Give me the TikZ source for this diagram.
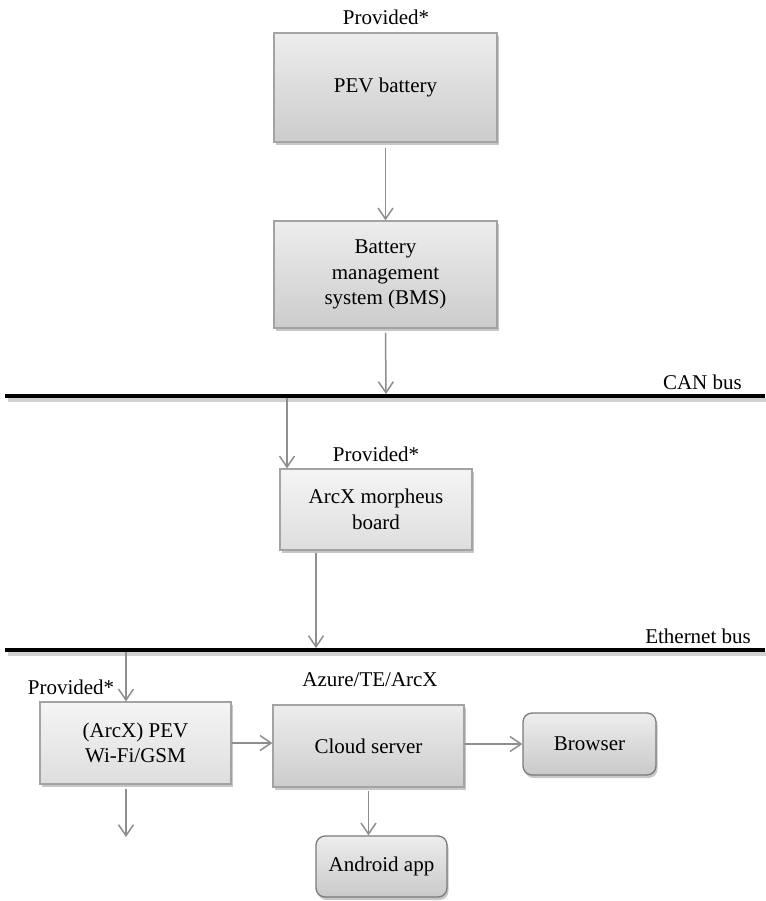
\documentclass[tikz,border=0pt]{standalone}
\usepackage{fontspec}
\setmainfont{Liberation Serif}
\usetikzlibrary{arrows.meta,shadows,calc}

\definecolor{edgegray}{HTML}{A3A3A3}
\definecolor{edgedark}{HTML}{7A7A7A}
\definecolor{conngray}{HTML}{8E8E8E}

\begin{document}
\begin{tikzpicture}[x=1pt,y=-1pt,
  txt/.style={font=\fontsize{21}{25.5}\selectfont, align=center, inner sep=0pt},
  boxbase/.style={txt, draw=edgegray, line width=1.3pt,
    drop shadow={shadow xshift=1.5pt, shadow yshift=-3pt, opacity=0.22, fill=black}},
  darkbox/.style={boxbase, top color=black!7, bottom color=black!20},
  lightbox/.style={boxbase, top color=black!4, bottom color=black!13},
  roundbox/.style={boxbase, draw=edgedark, rounded corners=9pt, top color=black!7, bottom color=black!21},
  conn/.style={draw=conngray, line width=1.5pt, -{Straight Barb[length=11pt,width=15pt]}},
  bus/.style={line width=4pt, black},
  busshade/.style={line width=4pt, black!18},
]
\useasboundingbox (0,0) rectangle (765,901);

% top: battery and BMS
\node[txt] (prov1) at (386,17) {Provided*};
\node[darkbox, minimum width=223, minimum height=109] (pev) at (385.5,87.5) {PEV battery};
\node[darkbox, minimum width=223, minimum height=107] (bms) at (385.5,274.5)
  {Battery\\management\\system (BMS)};

% CAN bus
\def\canY{396}
\coordinate (canL) at (5,\canY);
\coordinate (canR) at (765,\canY);
\draw[busshade] ($(canL)+(3,3.5)$) -- ($(canR)+(3,3.5)$);
\draw[bus] (canL) -- (canR);
\node[txt, anchor=east] (canlbl) at (742,382) {CAN bus};
\coordinate (canIn) at (386,\canY-2);
\coordinate (canOut) at (287,\canY+2);

% ArcX board
\node[txt] (prov2) at (376,454) {Provided*};
\node[lightbox, minimum width=192, minimum height=81] (arcx) at (376,509.5)
  {ArcX morpheus\\board};

% Ethernet bus
\def\ethY{650}
\coordinate (ethL) at (5,\ethY);
\coordinate (ethR) at (765,\ethY);
\draw[busshade] ($(ethL)+(3,3.5)$) -- ($(ethR)+(3,3.5)$);
\draw[bus] (ethL) -- (ethR);
\node[txt, anchor=east] (ethlbl) at (751,\ethY-14) {Ethernet bus};
\coordinate (ethIn) at (316,\ethY-2);
\coordinate (ethOut) at (126,\ethY+2);

% bottom row
\node[txt] (prov3) at (71,687) {Provided*};
\node[lightbox, minimum width=191, minimum height=82] (wifi) at (135.5,743)
  {(ArcX) PEV\\Wi-Fi/GSM};
\node[txt] (azure) at (370,680) {Azure/TE/ArcX};
\node[darkbox, minimum width=191, minimum height=82] (cloud) at (368.5,746) {Cloud server};
\node[roundbox, minimum width=133, minimum height=62] (browser) at (589.5,744) {Browser};
\node[roundbox, minimum width=131, minimum height=61] (android) at (381.5,866.5) {Android app};
\coordinate (wifiDown) at (126,837);

% connectors
\draw[conn, shorten <=5pt] (pev.south) -- (bms.north);
\draw[conn, shorten <=4pt] (bms.south) -- (canIn);
\draw[conn] (canOut) -- (canOut |- arcx.north);
\draw[conn, shorten <=2pt] (ethIn |- arcx.south) -- (ethIn);
\draw[conn] (ethOut) -- (ethOut |- wifi.north);
\draw[conn, shorten <=4pt] (wifiDown |- wifi.south) -- (wifiDown);
\draw[conn] (wifi.east) -- (wifi.east -| cloud.west);
\draw[conn] (browser.west -| cloud.east) -- (browser.west);
\draw[conn, shorten <=3pt] (cloud.south) -- (cloud.south |- android.north);
\end{tikzpicture}
\end{document}
